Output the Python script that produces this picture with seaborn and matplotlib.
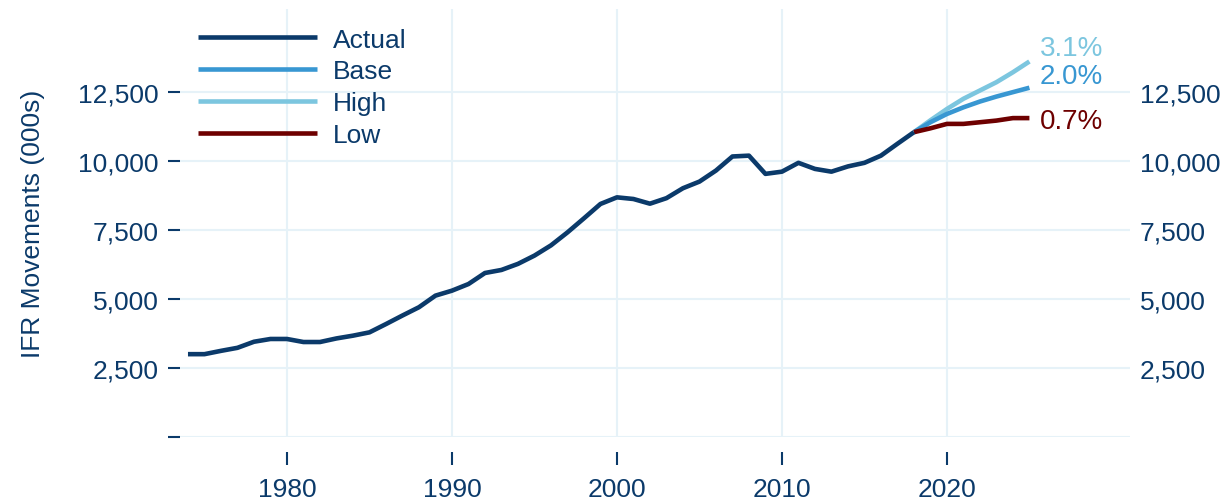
import pandas as pd
import matplotlib.pyplot as plt
import seaborn as sns

# data
years_actual = list(range(1974, 2019))
actual = [3000, 3000, 3120, 3230, 3450, 3550, 3550, 3440, 3440, 3570,
          3670, 3790, 4090, 4400, 4700, 5120, 5300, 5540, 5940, 6050,
          6270, 6570, 6940, 7410, 7920, 8440, 8680, 8620, 8450, 8650,
          9010, 9250, 9650, 10160, 10190, 9530, 9610, 9930, 9710, 9610,
          9800, 9930, 10190, 10620, 11040]
years_fc = list(range(2018, 2026))
base = [11040, 11400, 11700, 11940, 12150, 12330, 12490, 12650]
high = [11040, 11470, 11880, 12250, 12550, 12850, 13210, 13600]
low = [11040, 11180, 11340, 11340, 11400, 11460, 11550, 11550]
growth_labels = {'High': '3.1%', 'Base': '2.0%', 'Low': '0.7%'}

navy = '#0b3a6a'
colors = {'Actual': '#0b3a6a', 'Base': '#3897d2', 'High': '#7cc6df', 'Low': '#6e0000'}
grid_col = '#e6f2f8'

df = pd.concat([
    pd.DataFrame({'year': years_actual, 'value': actual, 'series': 'Actual'}),
    pd.DataFrame({'year': years_fc, 'value': base, 'series': 'Base'}),
    pd.DataFrame({'year': years_fc, 'value': high, 'series': 'High'}),
    pd.DataFrame({'year': years_fc, 'value': low, 'series': 'Low'}),
])

sns.set_theme(style="white")
plt.rcParams['font.family'] = ['Liberation Sans', 'DejaVu Sans']
fs = 19

fig = plt.figure(figsize=(12.31, 5.02), dpi=100)
ax = fig.add_axes([0.146, 0.1275, 0.772, 0.8525])

# draw forecasts first so the actual line sits on top of the join
for name in ['High', 'Base', 'Low', 'Actual']:
    sub = df[df['series'] == name]
    sns.lineplot(data=sub, x='year', y='value', color=colors[name], linewidth=3.3,
                 ax=ax, label=name, solid_capstyle='butt')

ax.set_xlim(1973.5, 2031.1)
ax.set_ylim(0, 15500)
ax.set_xticks([1980, 1990, 2000, 2010, 2020])
yt = [0, 2500, 5000, 7500, 10000, 12500]
ax.set_yticks(yt)
ax.set_yticklabels([''] + [f'{v:,}' for v in yt[1:]])
ax.grid(True, color=grid_col, linewidth=1.5)
for s in ax.spines.values():
    s.set_visible(False)
ax.spines['bottom'].set_position(('outward', 11))
ax.tick_params(axis='x', direction='out', length=9, width=1.5, color=navy,
               labelcolor=navy, labelsize=fs, pad=9, bottom=True)
ax.tick_params(axis='y', direction='out', length=9, width=1.5, color=navy,
               labelcolor=navy, labelsize=fs, pad=6, left=True)
ax.set_xlabel('')
ax.set_ylabel('IFR Movements (000s)', color=navy, fontsize=fs, labelpad=24)

# right-hand axis labels
ax2 = ax.twinx()
ax2.set_ylim(ax.get_ylim())
ax2.set_yticks(yt[1:])
ax2.set_yticklabels([f'{v:,}' for v in yt[1:]])
ax2.tick_params(axis='y', length=0, labelcolor=navy, labelsize=fs, pad=7)
for s in ax2.spines.values():
    s.set_visible(False)

# growth rate labels at the end of each scenario
ends = {'High': (high[-1], 13), 'Base': (base[-1], 12), 'Low': (low[-1], -3)}
for name, (val, dy) in ends.items():
    ax.annotate(growth_labels[name], xy=(years_fc[-1], val), xytext=(10, dy),
                textcoords='offset pixels', color=colors[name], fontsize=20,
                ha='left', va='center')

handles, labels = ax.get_legend_handles_labels()
order = [labels.index(n) for n in ['Actual', 'Base', 'High', 'Low']]
leg = ax.legend([handles[i] for i in order], [labels[i] for i in order],
                loc='upper left', bbox_to_anchor=(0.0, 1.0), frameon=False,
                fontsize=fs, handlelength=4.5, handletextpad=0.6,
                labelspacing=0.3, borderaxespad=0.3)
for t in leg.get_texts():
    t.set_color(navy)

fig.savefig('out.png', dpi=100)
plt.close()
